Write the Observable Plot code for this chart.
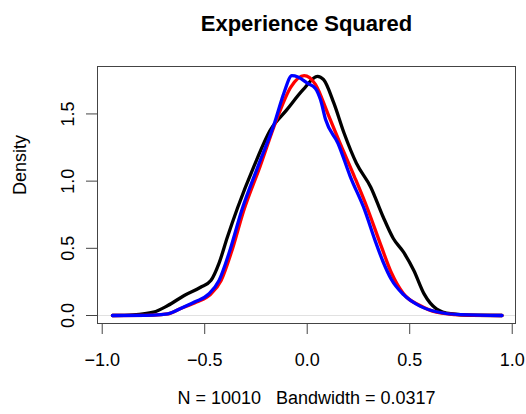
<!DOCTYPE html>
<html>
<head>
<meta charset="utf-8">
<script src="https://cdn.jsdelivr.net/npm/d3@7"></script>
<script src="https://cdn.jsdelivr.net/npm/@observablehq/plot@0.6"></script>
<style>
  html, body { margin: 0; padding: 0; background: #fff; }
  #chart svg { display: block; }
</style>
</head>
<body>
<div id="chart"></div>
<script>
const titleText = "Experience Squared";
const subtitleText = "N = 10010   Bandwidth = 0.0317";
const yLabel = "Density";
const xTicks = [-1.0, -0.5, 0.0, 0.5, 1.0];
const yTicks = [0.0, 0.5, 1.0, 1.5];

const blackX = [-0.95, -0.85, -0.75, -0.68, -0.60, -0.52, -0.47, -0.43, -0.39, -0.34, -0.26, -0.18, -0.10, -0.02, 0.05, 0.08, 0.13, 0.18, 0.24, 0.31, 0.37, 0.42, 0.47, 0.52, 0.57, 0.63, 0.70, 0.80, 0.95];
const blackY = [0, 0.005, 0.025, 0.074, 0.149, 0.21, 0.26, 0.39, 0.58, 0.80, 1.11, 1.38, 1.53, 1.68, 1.78, 1.755, 1.58, 1.356, 1.133, 0.955, 0.735, 0.573, 0.471, 0.335, 0.161, 0.05, 0.013, 0.002, 0];

const redX = [-0.95, -0.75, -0.68, -0.62, -0.54, -0.47, -0.42, -0.37, -0.31, -0.23, -0.15, -0.08, -0.015, 0.04, 0.10, 0.16, 0.23, 0.29, 0.36, 0.41, 0.47, 0.55, 0.63, 0.75, 0.95];
const redY = [0, 0.003, 0.012, 0.05, 0.10, 0.16, 0.26, 0.47, 0.78, 1.11, 1.456, 1.70, 1.785, 1.72, 1.505, 1.282, 1.034, 0.811, 0.52, 0.32, 0.161, 0.074, 0.025, 0.005, 0];

const blueX = [-0.95, -0.75, -0.68, -0.62, -0.55, -0.48, -0.43, -0.38, -0.32, -0.24, -0.16, -0.114, -0.075, -0.045, 0.0, 0.04, 0.065, 0.09, 0.15, 0.21, 0.28, 0.33, 0.37, 0.41, 0.47, 0.55, 0.63, 0.75, 0.95];
const blueY = [0, 0.003, 0.012, 0.05, 0.10, 0.16, 0.26, 0.47, 0.78, 1.11, 1.43, 1.654, 1.785, 1.775, 1.73, 1.69, 1.605, 1.456, 1.282, 1.034, 0.786, 0.563, 0.40, 0.27, 0.155, 0.07, 0.028, 0.006, 0];

const series = [
  {name: "black", color: "#000000", xs: blackX, ys: blackY},
  {name: "red", color: "#ff0000", xs: redX, ys: redY},
  {name: "blue", color: "#0000ff", xs: blueX, ys: blueY}
];

const font = "'Liberation Sans', Arial, Helvetica, sans-serif";

const lineMarks = series.map(s => Plot.line(
  s.xs.map((x, i) => ({x, y: s.ys[i]})),
  {x: "x", y: "y", stroke: s.color, strokeWidth: 3.3, curve: "monotone-x", strokeLinejoin: "round", strokeLinecap: "round"}
));

const chart = Plot.plot({
  width: 526,
  height: 414,
  marginLeft: 97,
  marginRight: 11,
  marginTop: 66,
  marginBottom: 91,
  style: {fontFamily: font, fontSize: "18px", background: "#fff", color: "#000"},
  x: {domain: [-1.023, 1.016]},
  y: {domain: [-0.0595, 1.853]},
  marks: [
    Plot.ruleY([0], {stroke: "#cccccc", strokeWidth: 0.6}),
    ...lineMarks,
    Plot.frame({stroke: "#444", strokeWidth: 1}),
    Plot.axisX({ticks: xTicks, tickSize: 11, tickPadding: 19, tickFormat: d3.format(".1f"), label: null, fontSize: 18, stroke: "#444"}),
    Plot.axisY({ticks: yTicks, tickSize: 11, tickPadding: 13, tickRotate: -90, tickFormat: d3.format(".1f"), label: null, fontSize: 18, stroke: "#444"}),
    Plot.text([titleText], {frameAnchor: "top", lineAnchor: "middle", dy: -43, text: d => d, fontWeight: "bold", fontSize: 22, fill: "#000"}),
    Plot.text([subtitleText], {frameAnchor: "bottom", lineAnchor: "middle", dy: 75, text: d => d, fontSize: 18, fill: "#000"}),
    Plot.text([yLabel], {frameAnchor: "left", lineAnchor: "middle", dx: -77, rotate: -90, text: d => d, fontSize: 18, fill: "#000"})
  ]
});
document.getElementById("chart").appendChild(chart);
</script>
</body>
</html>
